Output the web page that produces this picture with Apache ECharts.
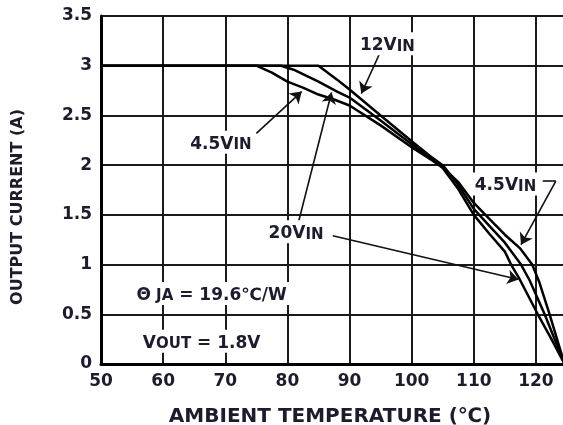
<!DOCTYPE html>
<html>
<head>
<meta charset="utf-8">
<script src="https://cdn.jsdelivr.net/npm/echarts@6/dist/echarts.min.js"></script>
<style>
  html, body { margin: 0; padding: 0; background: #fff; }
  #chart { width: 563px; height: 425px; }
</style>
</head>
<body>
<div id="chart"></div>
<script>
// derating curves, ambient temperature (C) vs output current (A)
const temp45 = [50, 75, 77.5, 80, 82.5, 85, 87.5, 90, 95, 100, 103, 105, 107.5, 110, 112.5, 115, 117.5, 119.4, 120.5, 122.2, 124.6];
const curr45 = [3, 3, 2.93, 2.84, 2.78, 2.71, 2.66, 2.6, 2.4, 2.18, 2.06, 1.98, 1.83, 1.62, 1.46, 1.3, 1.16, 1.0, 0.83, 0.5, 0];

const temp12 = [50, 85, 86.5, 88, 90, 95, 100, 103, 105, 107.5, 110, 112.5, 115, 117.6, 119, 121.4, 124.6];
const curr12 = [3, 3, 2.93, 2.86, 2.76, 2.5, 2.24, 2.09, 2.0, 1.8, 1.56, 1.39, 1.22, 1.0, 0.84, 0.5, 0];

const temp20 = [50, 79, 81, 83, 85, 88, 90, 95, 100, 103, 105, 107.5, 110, 112.5, 115, 116, 117.4, 120.3, 122.5, 124.6];
const curr20 = [3, 3, 2.96, 2.9, 2.84, 2.74, 2.68, 2.45, 2.21, 2.07, 1.97, 1.76, 1.5, 1.31, 1.13, 1.0, 0.85, 0.5, 0.25, 0];

// annotation texts (rich text) and their anchor in data units
const noteText = [
  '{m|4.5V}{s|IN}',
  '{m|12V}{s|IN}',
  '{m|20V}{s|IN}',
  '{m|4.5V}{s|IN}',
  '{m|Θ}{s| JA}{m| = 19.6℃/W}',
  '{m|V}{s|OUT}{m| = 1.8V}'
];
const noteAt = [[69.3, 2.23], [96.1, 3.22], [81.4, 1.33], [115.1, 1.81], [67.8, 0.71], [66.2, 0.23]];

// pointer lines: [from, to, arrow?]
const pointers = [
  [[75.0, 2.32], [82.3, 2.74], true],
  [[94.9, 3.13], [91.9, 2.72], true],
  [[81.8, 1.43], [87.1, 2.73], true],
  [[87.3, 1.29], [117.2, 0.85], true],
  [[121.1, 1.84], [123.2, 1.84], false],
  [[123.2, 1.84], [117.6, 1.2], true]
];

const ink = '#1c1c2c';
const font = 'DejaVu Sans';

const zip = (xs, ys) => xs.map((x, i) => [x, ys[i]]);

const chart = echarts.init(document.getElementById('chart'), null, { renderer: 'canvas' });

const curveStyle = { color: '#000', width: 2.5 };

const option = {
  animation: false,
  backgroundColor: '#fff',
  grid: { left: 101, right: -4, top: 16, bottom: 61, containLabel: false, outerBoundsMode: 'none' },
  xAxis: {
    type: 'value',
    min: 50,
    max: 125,
    interval: 10,
    name: 'AMBIENT TEMPERATURE (℃)',
    nameLocation: 'middle',
    nameGap: 43,
    nameTextStyle: { color: ink, fontFamily: font, fontWeight: 'bold', fontSize: 20, padding: [0, 8, 0, 0] },
    axisLine: { lineStyle: { color: '#000', width: 3 } },
    axisTick: { show: false },
    axisLabel: { color: ink, fontFamily: font, fontWeight: 'bold', fontSize: 17, margin: 9, showMaxLabel: false },
    splitLine: { show: true, lineStyle: { color: '#1a1a1a', width: 2 } }
  },
  yAxis: {
    type: 'value',
    min: 0,
    max: 3.5,
    interval: 0.5,
    name: 'OUTPUT CURRENT (A)',
    nameLocation: 'middle',
    nameGap: 75,
    nameTextStyle: { color: ink, fontFamily: font, fontWeight: 'bold', fontSize: 16, padding: [0, 34, 0, 0] },
    axisLine: { show: true, lineStyle: { color: '#000', width: 3 } },
    axisTick: { show: false },
    axisLabel: { color: ink, fontFamily: font, fontWeight: 'bold', fontSize: 17, margin: 9 },
    splitLine: { show: true, lineStyle: { color: '#1a1a1a', width: 2 } }
  },
  series: [
    {
      name: '4.5VIN',
      type: 'line',
      data: zip(temp45, curr45),
      symbol: 'none',
      lineStyle: curveStyle,
      z: 3,
      markLine: {
        silent: true,
        animation: false,
        label: { show: false },
        lineStyle: { color: '#111', width: 1.6, type: 'solid' },
        data: pointers.map(([a, b, arrow]) => [
          { coord: a, symbol: 'none' },
          { coord: b, symbol: arrow ? 'arrow' : 'none', symbolSize: 11 }
        ])
      },
      markPoint: {
        silent: true,
        animation: false,
        symbolSize: 0,
        data: noteAt.map((c, i) => ({
          coord: c,
          label: {
            show: true,
            position: 'inside',
            formatter: noteText[i],
            backgroundColor: '#fff',
            padding: [1, 3],
            rich: {
              m: { color: ink, fontFamily: font, fontWeight: 'bold', fontSize: 17, lineHeight: 21, verticalAlign: 'bottom' },
              s: { color: ink, fontFamily: font, fontWeight: 'bold', fontSize: 15, lineHeight: 14, verticalAlign: 'bottom' }
            }
          }
        }))
      }
    },
    { name: '12VIN', type: 'line', data: zip(temp12, curr12), symbol: 'none', lineStyle: curveStyle, z: 3 },
    { name: '20VIN', type: 'line', data: zip(temp20, curr20), symbol: 'none', lineStyle: curveStyle, z: 3 }
  ]
};

chart.setOption(option);
</script>
</body>
</html>
